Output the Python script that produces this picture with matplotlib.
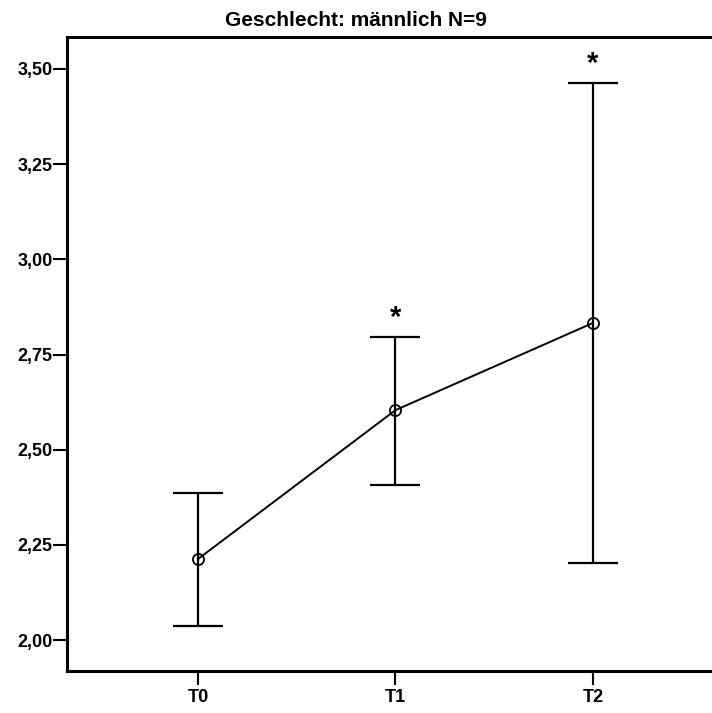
import matplotlib
matplotlib.use("Agg")
import matplotlib.pyplot as plt
from matplotlib import font_manager

fams = {f.name for f in font_manager.fontManager.ttflist}
fam = 'Liberation Sans Narrow' if 'Liberation Sans Narrow' in fams else 'Liberation Sans'
plt.rcParams['font.family'] = [fam, 'DejaVu Sans']

categories = ["T0", "T1", "T2"]
means = [2.213, 2.604, 2.833]
upper = [2.386, 2.796, 3.462]
lower = [2.037, 2.407, 2.202]
significant = [False, True, True]
yticks = [2.00, 2.25, 2.50, 2.75, 3.00, 3.25, 3.50]
ytick_labels = ["2,00", "2,25", "2,50", "2,75", "3,00", "3,25", "3,50"]
title = "Geschlecht: männlich N=9"

fig = plt.figure(figsize=(7.12, 7.13), dpi=100)
ax = fig.add_axes([67/712, 1-671/713, 1-67/712, (671-37)/713])

x = list(range(len(categories)))
yerr = [[m - l for m, l in zip(means, lower)], [u - m for m, u in zip(means, upper)]]
ax.errorbar(x, means, yerr=yerr, fmt='none', ecolor='black', elinewidth=1.6,
            capsize=18, capthick=1.6)
ax.plot(x, means, color='black', linewidth=1.4, marker='o', markersize=8,
        markerfacecolor='none', markeredgecolor='black', markeredgewidth=1.3)

for xi, u, s in zip(x, upper, significant):
    if s:
        ax.annotate('*', (xi, u), xytext=(0, 4), textcoords='offset points',
                    ha='center', va='bottom', fontsize=21, fontweight='bold')

ax.set_xlim(-0.663, 2.603)
ax.set_ylim(1.919, 3.584)
ax.set_xticks(x)
ax.set_xticklabels(categories, fontsize=13, fontweight='bold')
ax.set_yticks(yticks)
ax.set_yticklabels(ytick_labels, fontsize=13, fontweight='bold')
ax.tick_params(axis='y', direction='out', length=10, width=1.5, pad=0.5)
ax.tick_params(axis='x', direction='out', length=10, width=1.5, pad=3)
for side in ['left', 'top', 'bottom']:
    ax.spines[side].set_linewidth(2.2)
ax.spines['right'].set_visible(False)
fig.text(0.5, 1-26/713, title, ha='center', va='baseline', fontsize=15, fontweight='bold')

fig.savefig("out.png", dpi=100)
